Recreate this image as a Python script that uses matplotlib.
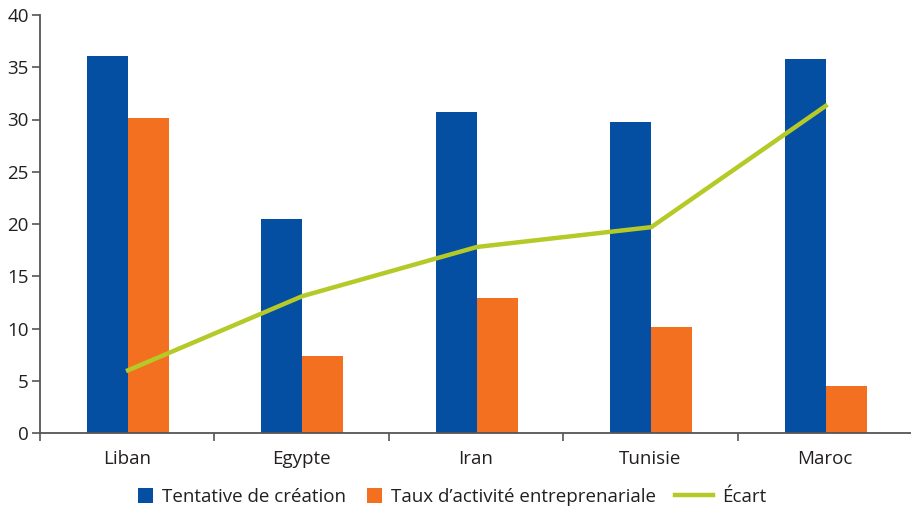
import matplotlib
matplotlib.use("Agg")
import matplotlib.pyplot as plt
import numpy as np

categories = ["Liban", "Egypte", "Iran", "Tunisie", "Maroc"]
tentative = [36.1, 20.5, 30.7, 29.8, 35.8]
taux = [30.1, 7.4, 12.9, 10.1, 4.5]
ecart = [6.0, 13.1, 17.8, 19.7, 31.3]
yticks = [0, 5, 10, 15, 20, 25, 30, 35, 40]

plt.rcParams['font.family'] = ['Open Sans', 'DejaVu Sans']

fig = plt.figure(figsize=(9.12, 5.09), dpi=100)
ax = fig.add_axes([40/912, (509-433)/509, 872/912, (433-15)/509])

x = np.arange(len(categories))
w = 0.235
b1 = ax.bar(x - w/2 + 0.005, tentative, w, color="#044FA2", label="Tentative de création", zorder=2)
b2 = ax.bar(x + w/2 + 0.005, taux, w, color="#F37021", label="Taux d\u2019activité entreprenariale", zorder=2)
ln, = ax.plot(x + 0.005, ecart, color="#B5C927", lw=3.2, label="Écart", zorder=3)

ax.set_xlim(-0.5, 4.5)
ax.set_ylim(0, 40)
ax.set_yticks(yticks)
ax.set_yticklabels([str(t) for t in yticks], fontsize=13.5, color="#231F20")
ax.set_xticks(np.arange(-0.5, 4.6, 1.0))
ax.set_xticklabels([])
ax.set_xticks(x, minor=True)
ax.set_xticklabels(categories, minor=True, fontsize=13.5, color="#231F20")
ax.tick_params(axis='x', which='minor', length=0, pad=12)
ax.tick_params(axis='x', which='major', length=6, width=1.2, color="#555555", direction='out')
ax.tick_params(axis='y', length=6, width=1.2, color="#555555", direction='out', pad=2)
for s in ["top", "right"]:
    ax.spines[s].set_visible(False)
for s in ["left", "bottom"]:
    ax.spines[s].set_color("#555555")
    ax.spines[s].set_linewidth(1.3)

yc = 1 - 497/509
entries = [(b1, "Tentative de création", 138, 0.8),
           (b2, "Taux d\u2019activité entreprenariale", 367, 0.8),
           (ln, "Écart", 675, 2.0)]
for h, lab, xpx, hl in entries:
    leg = fig.legend([h], [lab], loc="center left", bbox_to_anchor=(xpx/912, yc),
                     frameon=False, fontsize=13.5, handlelength=hl, handleheight=0.8,
                     handletextpad=0.5, borderpad=0, borderaxespad=0)
    for t in leg.get_texts():
        t.set_color("#231F20")

fig.savefig("out.png", dpi=100)
